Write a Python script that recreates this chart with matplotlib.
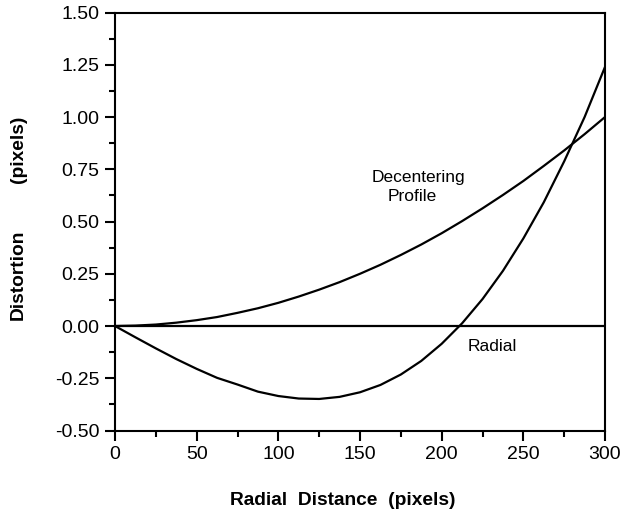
import matplotlib
matplotlib.use("Agg")
import matplotlib.pyplot as plt
from matplotlib.ticker import MultipleLocator, FormatStrFormatter

plt.rcParams["font.family"] = ["Liberation Sans", "DejaVu Sans"]

# -- Data --------------------------------------------------------------------
radius = [0, 12.5, 25, 37.5, 50, 62.5, 75, 87.5, 100, 112.5, 125, 137.5, 150,
          162.5, 175, 187.5, 200, 212.5, 225, 237.5, 250, 262.5, 275, 287.5, 300]

decentering = [0.0, 0.002, 0.007, 0.016, 0.028, 0.043, 0.063, 0.085, 0.111,
               0.141, 0.174, 0.210, 0.250, 0.293, 0.340, 0.390, 0.444, 0.502,
               0.563, 0.627, 0.694, 0.766, 0.840, 0.918, 1.000]

radial = [0.0, -0.054, -0.107, -0.158, -0.205, -0.248, -0.280, -0.314, -0.335,
          -0.347, -0.349, -0.339, -0.317, -0.282, -0.232, -0.167, -0.085, 0.013,
          0.129, 0.264, 0.419, 0.592, 0.788, 1.000, 1.240]

zero_line = [0.0] * len(radius)

# -- Figure -------------------------------------------------------------------
fig = plt.figure(figsize=(6.26, 5.11), dpi=100)
ax = fig.add_axes([0.1837, 0.1575, 0.7828, 0.818])

for ys in (decentering, radial, zero_line):
    ax.plot(radius, ys, color="black", lw=1.6, solid_capstyle="butt")

ax.set_xlim(0, 300)
ax.set_ylim(-0.5, 1.5)

ax.xaxis.set_major_locator(MultipleLocator(50))
ax.xaxis.set_minor_locator(MultipleLocator(25))
ax.yaxis.set_major_locator(MultipleLocator(0.25))
ax.yaxis.set_minor_locator(MultipleLocator(0.125))
ax.yaxis.set_major_formatter(FormatStrFormatter("%.2f"))

ax.tick_params(which="both", direction="out", top=False, right=False,
               width=1.5, color="black")
ax.tick_params(which="major", length=7, labelsize=14, pad=4)
ax.tick_params(which="minor", length=4)

for s in ax.spines.values():
    s.set_linewidth(1.5)

ax.text(186, 0.71, "Decentering", fontsize=12.5, ha="center", va="center")
ax.text(182, 0.62, "Profile", fontsize=12.5, ha="center", va="center")
ax.text(231, -0.10, "Radial", fontsize=12.5, ha="center", va="center")

# axis titles, placed as in the scan
fig.text(0.548, 0.021, "Radial  Distance  (pixels)", fontsize=13.8,
         fontweight="bold", ha="center", va="center")
fig.text(0.029, 1 - 275 / 511, "Distortion", fontsize=13.8,
         fontweight="bold", ha="center", va="center", rotation=90)
fig.text(0.029, 1 - 149 / 511, "(pixels)", fontsize=13.8,
         fontweight="bold", ha="center", va="center", rotation=90)

fig.savefig("out.png", dpi=100, facecolor="white")
